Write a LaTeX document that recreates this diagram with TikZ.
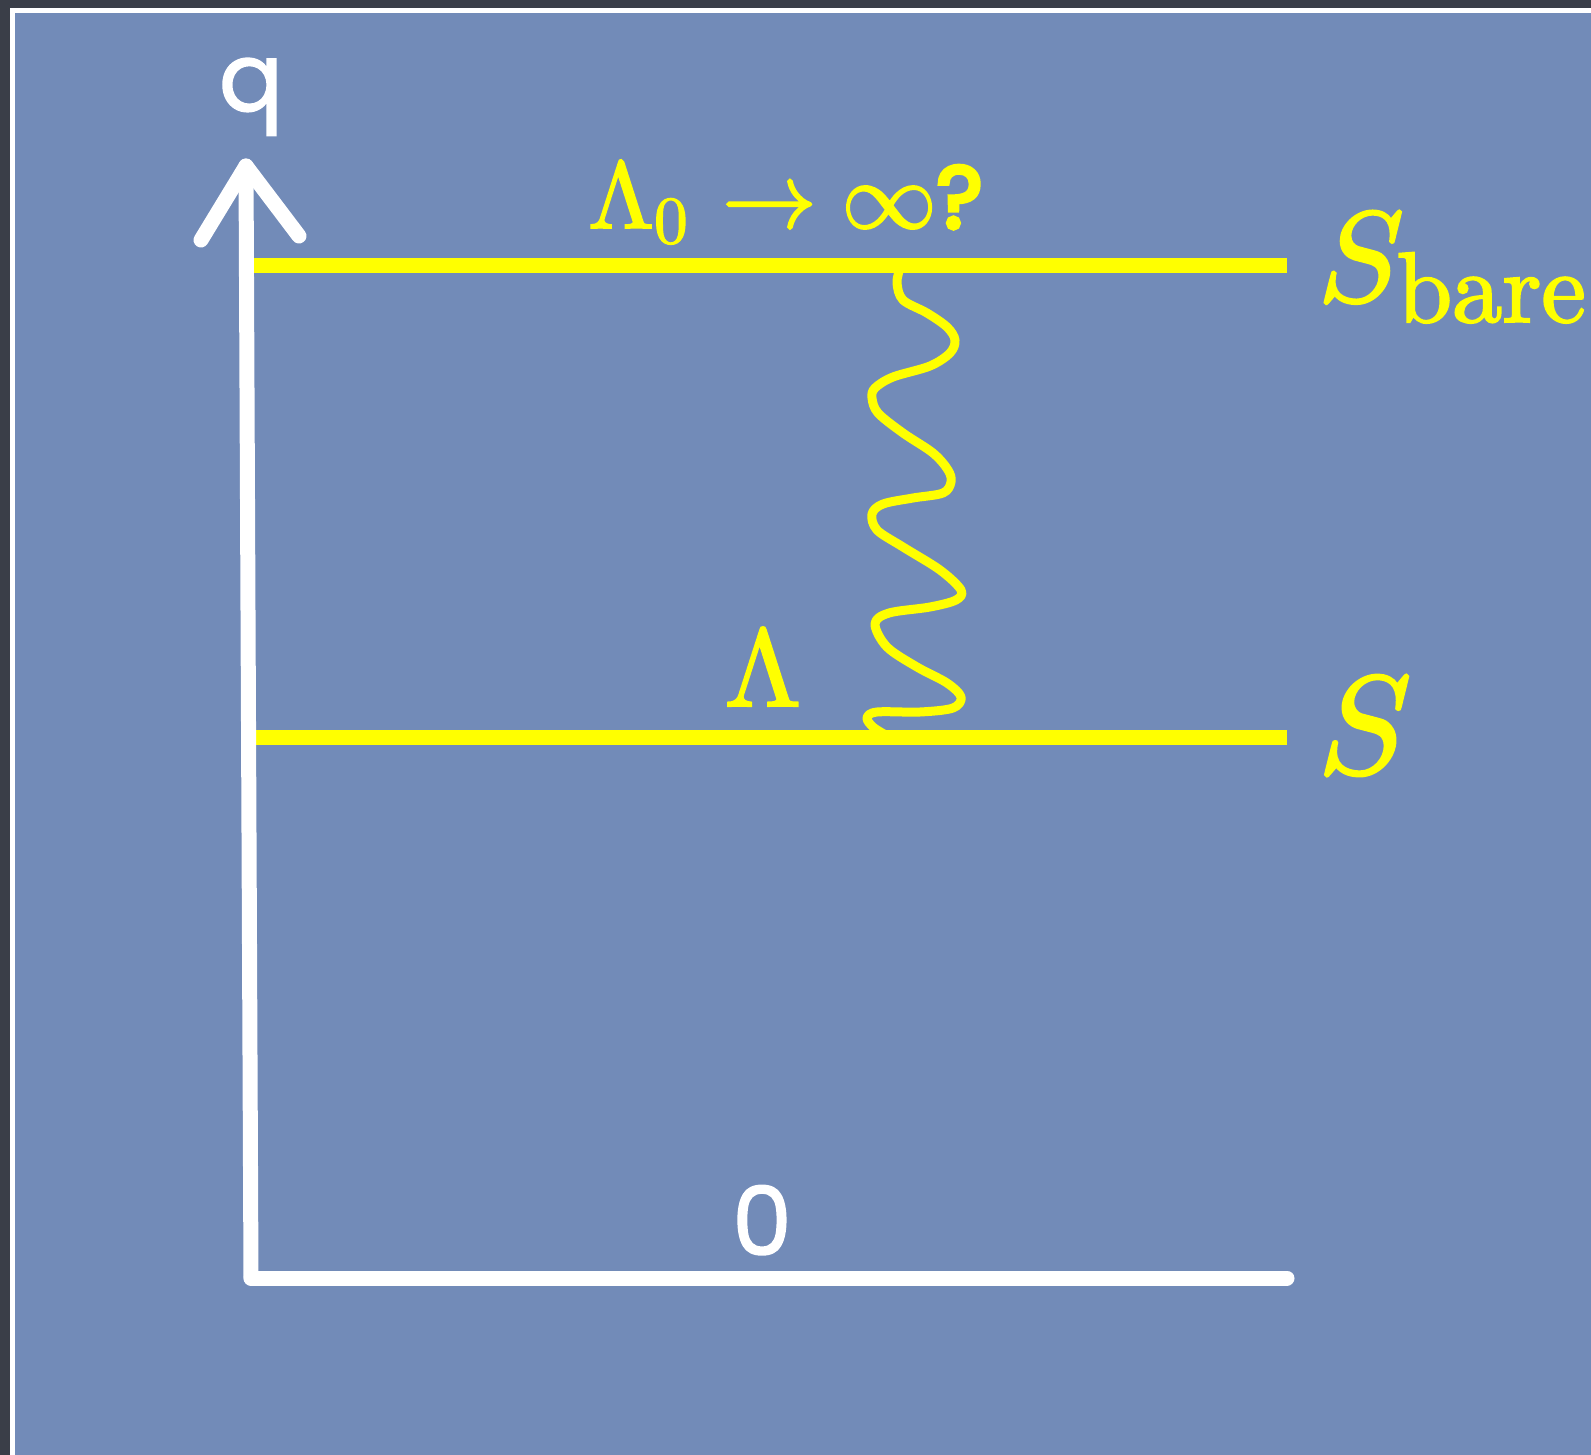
\documentclass[tikz,border=0pt]{standalone}
\usepackage{fontspec}
\newfontfamily\chalk[FakeBold=1.5]{Poppins}
\newfontfamily\chalkq[FakeBold=5]{Poppins}
\newfontfamily\lmm[FakeBold=2]{latinmodern-math.otf}
\usetikzlibrary{calc}
\definecolor{board}{RGB}{114,139,184}
\definecolor{frame}{RGB}{58,62,72}
\definecolor{chalkyellow}{RGB}{255,255,0}
\tikzset{
  whitechalk/.style={draw=white,line width=15pt,line cap=round,line join=round},
  yellowchalk/.style={draw=chalkyellow,line width=15pt,line cap=butt},
  wiggle/.style={draw=chalkyellow,line width=9pt,line cap=round,line join=round},
  ylabel/.style={text=chalkyellow,inner sep=0pt,font=\lmm},
  wlabel/.style={text=white,inner sep=0pt,font=\chalk\fontsize{95}{100}\selectfont},
}
\begin{document}
\begin{tikzpicture}[x=1pt,y=-1pt]
\useasboundingbox (0,0) rectangle (1591,1455);
\fill[frame] (0,0) rectangle (1591,1455);
\fill[white] (10,8) rectangle (1591,1455);
\fill[board] (15,13) rectangle (1591,1455);

% coordinates
\coordinate (O) at (251,1278);
\coordinate (Ytop) at (246,166);
\coordinate (ArmL) at (201,240);
\coordinate (ArmR) at (299,236);
\coordinate (Xend) at (1287,1278);
\coordinate (TopA) at (254,266);
\coordinate (TopB) at (1287,266);
\coordinate (BotA) at (244,737);
\coordinate (BotB) at (1287,737);
\coordinate (W1) at (900,268);
\coordinate (W2) at (884,734);

% yellow levels
\draw[yellowchalk] (TopA) -- (TopB);
\draw[yellowchalk] (BotA) -- (BotB);

% wiggly line
\draw[wiggle] plot[smooth,tension=0.55] coordinates {
 (W1) (897,283) (903,300) (927,313) (947,327) (955,340) (950,353) (930,366)
 (893,377) (875,388) (872,398) (878,413) (903,433) (933,453) (948,470)
 (951,482) (943,493) (913,498) (883,504) (872,514) (877,530) (903,547)
 (940,570) (961,590) (956,600) (930,607) (889,613) (875,624) (887,647)
 (917,667) (947,683) (961,697) (953,708) (920,712) (877,712) (867,718)
 (873,727) (W2)};

% axes
\draw[whitechalk] (O) -- (Ytop);
\draw[whitechalk] (O) -- (Xend);
\draw[whitechalk] (ArmL) -- (Ytop) -- (ArmR);

% labels
\node[wlabel,anchor=base] (q) at (251,111) {q};
\node[wlabel,anchor=base] (zero) at (762,1255) {0};
\node[ylabel,anchor=base west] (lam0) at (588,228)
  {\fontsize{95}{98}\selectfont Λ\raisebox{-15pt}{\fontsize{67}{67}\selectfont 0}\hspace{34pt}→\hspace{25pt}∞\hspace{0pt}{\chalkq\fontsize{88}{90}\selectfont ?}};
\node[ylabel,anchor=base] (lam) at (763,706) {\fontsize{110}{115}\selectfont Λ};
\node[ylabel,anchor=base west] (Sbare) at (1318,301) {\fontsize{128}{130}\selectfont 𝑆\raisebox{-21pt}{\fontsize{100}{100}\selectfont bare}};
\node[ylabel,anchor=base west] (S) at (1318,773) {\fontsize{139}{140}\selectfont 𝑆};
\end{tikzpicture}
\end{document}
